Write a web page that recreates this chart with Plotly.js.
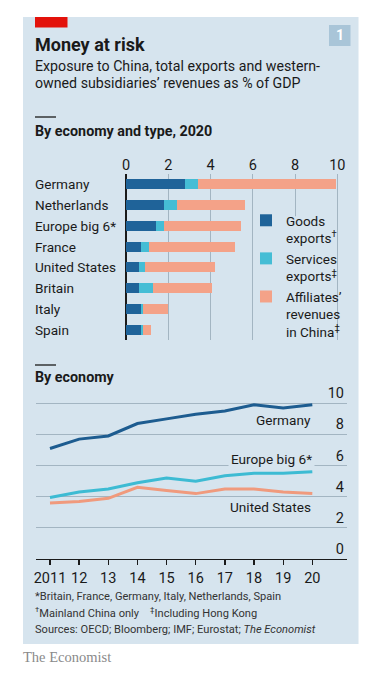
<!DOCTYPE html>
<html><head><meta charset="utf-8">
<script src="https://cdn.plot.ly/plotly-3.0.1.min.js"></script>
<style>html,body{margin:0;padding:0;background:#fff;}#chart{width:377px;height:681px;}</style>
</head><body><div id="chart"></div>
<script>
// ---- data ----
const categories = ['Germany','Netherlands','Europe big 6*','France','United States','Britain','Italy','Spain'];
const goodsExports = [2.8, 1.8, 1.4, 0.7, 0.6, 0.6, 0.7, 0.7];
const servicesExports = [0.6, 0.6, 0.4, 0.4, 0.3, 0.7, 0.1, 0.1];
const affiliatesRevenues = [6.55, 3.25, 3.65, 4.05, 3.3, 2.75, 1.2, 0.4];
const barTickVals = [0, 2, 4, 6, 8, 10];

const years = [2011, 2012, 2013, 2014, 2015, 2016, 2017, 2018, 2019, 2020];
const yearLabels = ['2011', '12', '13', '14', '15', '16', '17', '18', '19', '20'];
const germany = [7.1, 7.7, 7.9, 8.7, 9.0, 9.3, 9.5, 9.9, 9.7, 9.9];
const europeBig6 = [3.95, 4.3, 4.5, 4.9, 5.2, 5.0, 5.35, 5.5, 5.5, 5.6];
const unitedStates = [3.6, 3.7, 3.9, 4.6, 4.4, 4.2, 4.5, 4.5, 4.3, 4.2];
const lineTickVals = [0, 2, 4, 6, 8, 10];

// ---- layout helpers ----
const W = 377, H = 681;
const px = x => x / W;
const py = y => 1 - y / H;
const FONT = "'Liberation Sans Narrow', Roboto, sans-serif";
const PANEL = '#d6e4ee';
const GRID = '#a3b5c2';
const INK = '#1a1a1a';

const cGoods = '#1f6399', cServ = '#45bdd5', cAff = '#f4a288';
const cDE = '#1d5c90', cEU = '#3dbbd3', cUS = '#f09a7d';

const traces = [
  {type:'bar', orientation:'h', y:categories, x:goodsExports, name:'Goods<br>exports<sup>†</sup>',
   marker:{color:cGoods}, xaxis:'x', yaxis:'y', hoverinfo:'skip'},
  {type:'bar', orientation:'h', y:categories, x:servicesExports, name:'Services<br>exports<sup>‡</sup>',
   marker:{color:cServ}, xaxis:'x', yaxis:'y', hoverinfo:'skip'},
  {type:'bar', orientation:'h', y:categories, x:affiliatesRevenues, name:'Affiliates\u2019<br>revenues<br>in China<sup>‡</sup>',
   marker:{color:cAff}, xaxis:'x', yaxis:'y', hoverinfo:'skip'},
  {type:'scatter', mode:'lines', x:years, y:unitedStates, line:{color:cUS, width:3}, xaxis:'x2', yaxis:'y2', showlegend:false},
  {type:'scatter', mode:'lines', x:years, y:europeBig6, line:{color:cEU, width:3}, xaxis:'x2', yaxis:'y2', showlegend:false},
  {type:'scatter', mode:'lines', x:years, y:germany, line:{color:cDE, width:3}, xaxis:'x2', yaxis:'y2', showlegend:false}
];

const annotations = [];
function txt(text, x, y, size, opts) {
  annotations.push(Object.assign({text, xref:'paper', yref:'paper', x:px(x), y:py(y), xanchor:'left', yanchor:'middle',
    showarrow:false, borderpad:0, font:{family:FONT, size, color:INK}}, opts || {}));
}
txt('<b>Money at risk</b>', 34, 44, 18);
txt('Exposure to China, total exports and western-', 34, 66, 14.2);
txt('owned subsidiaries\u2019 revenues as % of GDP', 34, 83, 14.2);
txt('<b>1</b>', 339.5, 35.5, 14, {xanchor:'center', font:{family:FONT, size:14, color:'#ffffff'}});
txt('<b>By economy and type, 2020</b>', 34, 131, 14.3);
txt('<b>By economy</b>', 34, 377, 14.3);
const FN = {family:FONT, size:11.1, color:'#333'};
txt('*Britain, France, Germany, Italy, Netherlands, Spain', 34, 596, 11.1, {font:FN});
txt('<sup>†</sup>Mainland China only    <sup>‡</sup>Including Hong Kong', 34, 612, 11.1, {font:FN});
txt('Sources: OECD; Bloomberg; IMF; Eurostat; <i>The Economist</i>', 34, 629, 11.1, {font:FN});
txt('The Economist', 22, 657, 14.5, {font:{family:"'Liberation Serif', serif", size:14.5, color:'#8a8a8a'}});

categories.forEach(c => annotations.push({text:c, xref:'paper', yref:'y', x:px(34), y:c, xanchor:'left', yanchor:'middle',
  showarrow:false, borderpad:0, font:{family:FONT, size:13.6, color:INK}}));

const LBL = {family:FONT, size:13.6, color:INK};
annotations.push({text:'Germany', xref:'x2', yref:'y2', x:years[9], y:8.95, xanchor:'right', yanchor:'middle', showarrow:false,
  borderpad:0, font:LBL});
annotations.push({text:'Europe big 6*', xref:'x2', yref:'y2', x:years[9] + 0.08, y:6.4, xanchor:'right', yanchor:'middle', showarrow:false,
  bgcolor:PANEL, borderpad:2, font:LBL});
annotations.push({text:'United States', xref:'x2', yref:'y2', x:years[9], y:3.35, xanchor:'right', yanchor:'middle', showarrow:false,
  borderpad:0, font:LBL});

const shapes = [
  {type:'rect', xref:'paper', yref:'paper', x0:px(23), x1:px(358.5), y0:py(644), y1:py(17), fillcolor:PANEL, line:{width:0}, layer:'below'},
  {type:'rect', xref:'paper', yref:'paper', x0:px(35), x1:px(67.5), y0:py(27.5), y1:py(17), fillcolor:'#e3120b', line:{width:0}, layer:'below'},
  {type:'rect', xref:'paper', yref:'paper', x0:px(329), x1:px(350.5), y0:py(46), y1:py(25), fillcolor:'#a9c5d8', line:{width:0}, layer:'below'},
  {type:'line', xref:'paper', yref:'paper', x0:px(35), x1:px(56), y0:py(117), y1:py(117), line:{color:INK, width:1.3}},
  {type:'line', xref:'paper', yref:'paper', x0:px(35), x1:px(56), y0:py(365), y1:py(365), line:{color:INK, width:1.3}},
  // panel-coloured mask hiding the 8 gridline behind the legend
  {type:'rect', xref:'x', yref:'y', x0:7.6, x1:8.4, y0:1.55, y1:7.5, fillcolor:PANEL, line:{width:0}, layer:'between'}
];

const layout = {
  width:W, height:H, margin:{l:0, r:0, t:0, b:0},
  paper_bgcolor:'#ffffff', plot_bgcolor:'rgba(0,0,0,0)',
  font:{family:FONT, size:14, color:INK},
  barmode:'stack', bargap:0.52,
  showlegend:true,
  legend:{x:px(246), y:py(205), xanchor:'left', yanchor:'top', bgcolor:'rgba(0,0,0,0)', valign:'top', traceorder:'normal',
    font:{family:FONT, size:13.5, color:INK}, itemclick:false, tracegroupgap:0},
  xaxis:{domain:[px(126), px(126 + 10.2 * 21.13)], range:[0, 10.2], side:'top', tickvals:barTickVals,
    showgrid:true, gridcolor:GRID, gridwidth:1, zeroline:true, zerolinecolor:INK, zerolinewidth:1.3,
    ticks:'', tickfont:{family:FONT, size:14.5, color:INK}, fixedrange:true},
  yaxis:{domain:[py(340.4), py(173.6)], type:'category', categoryorder:'array', categoryarray:categories,
    range:[7.5, -0.5], showticklabels:false, showgrid:false, zeroline:false, ticks:'', fixedrange:true},
  xaxis2:{domain:[px(36), px(347)], range:[2010.52, 2021.19], anchor:'y2', tickvals:years, ticktext:yearLabels,
    showgrid:false, zeroline:false, showline:true, linecolor:INK, linewidth:1.3,
    ticks:'outside', ticklen:5, tickwidth:1.3, tickcolor:INK, tickfont:{family:FONT, size:14.5, color:INK}, fixedrange:true},
  yaxis2:{domain:[py(559), py(559 - 12 * 15.57)], range:[0, 12], anchor:'x2', side:'right', tickvals:lineTickVals,
    ticklabelposition:'inside top', ticklabeloverflow:'allow', showgrid:true, gridcolor:GRID, gridwidth:1, zeroline:false, ticks:'',
    tickfont:{family:FONT, size:14.5, color:INK}, fixedrange:true},
  annotations, shapes
};

Plotly.newPlot('chart', traces, layout, {staticPlot:true, displayModeBar:false});
</script></body></html>
